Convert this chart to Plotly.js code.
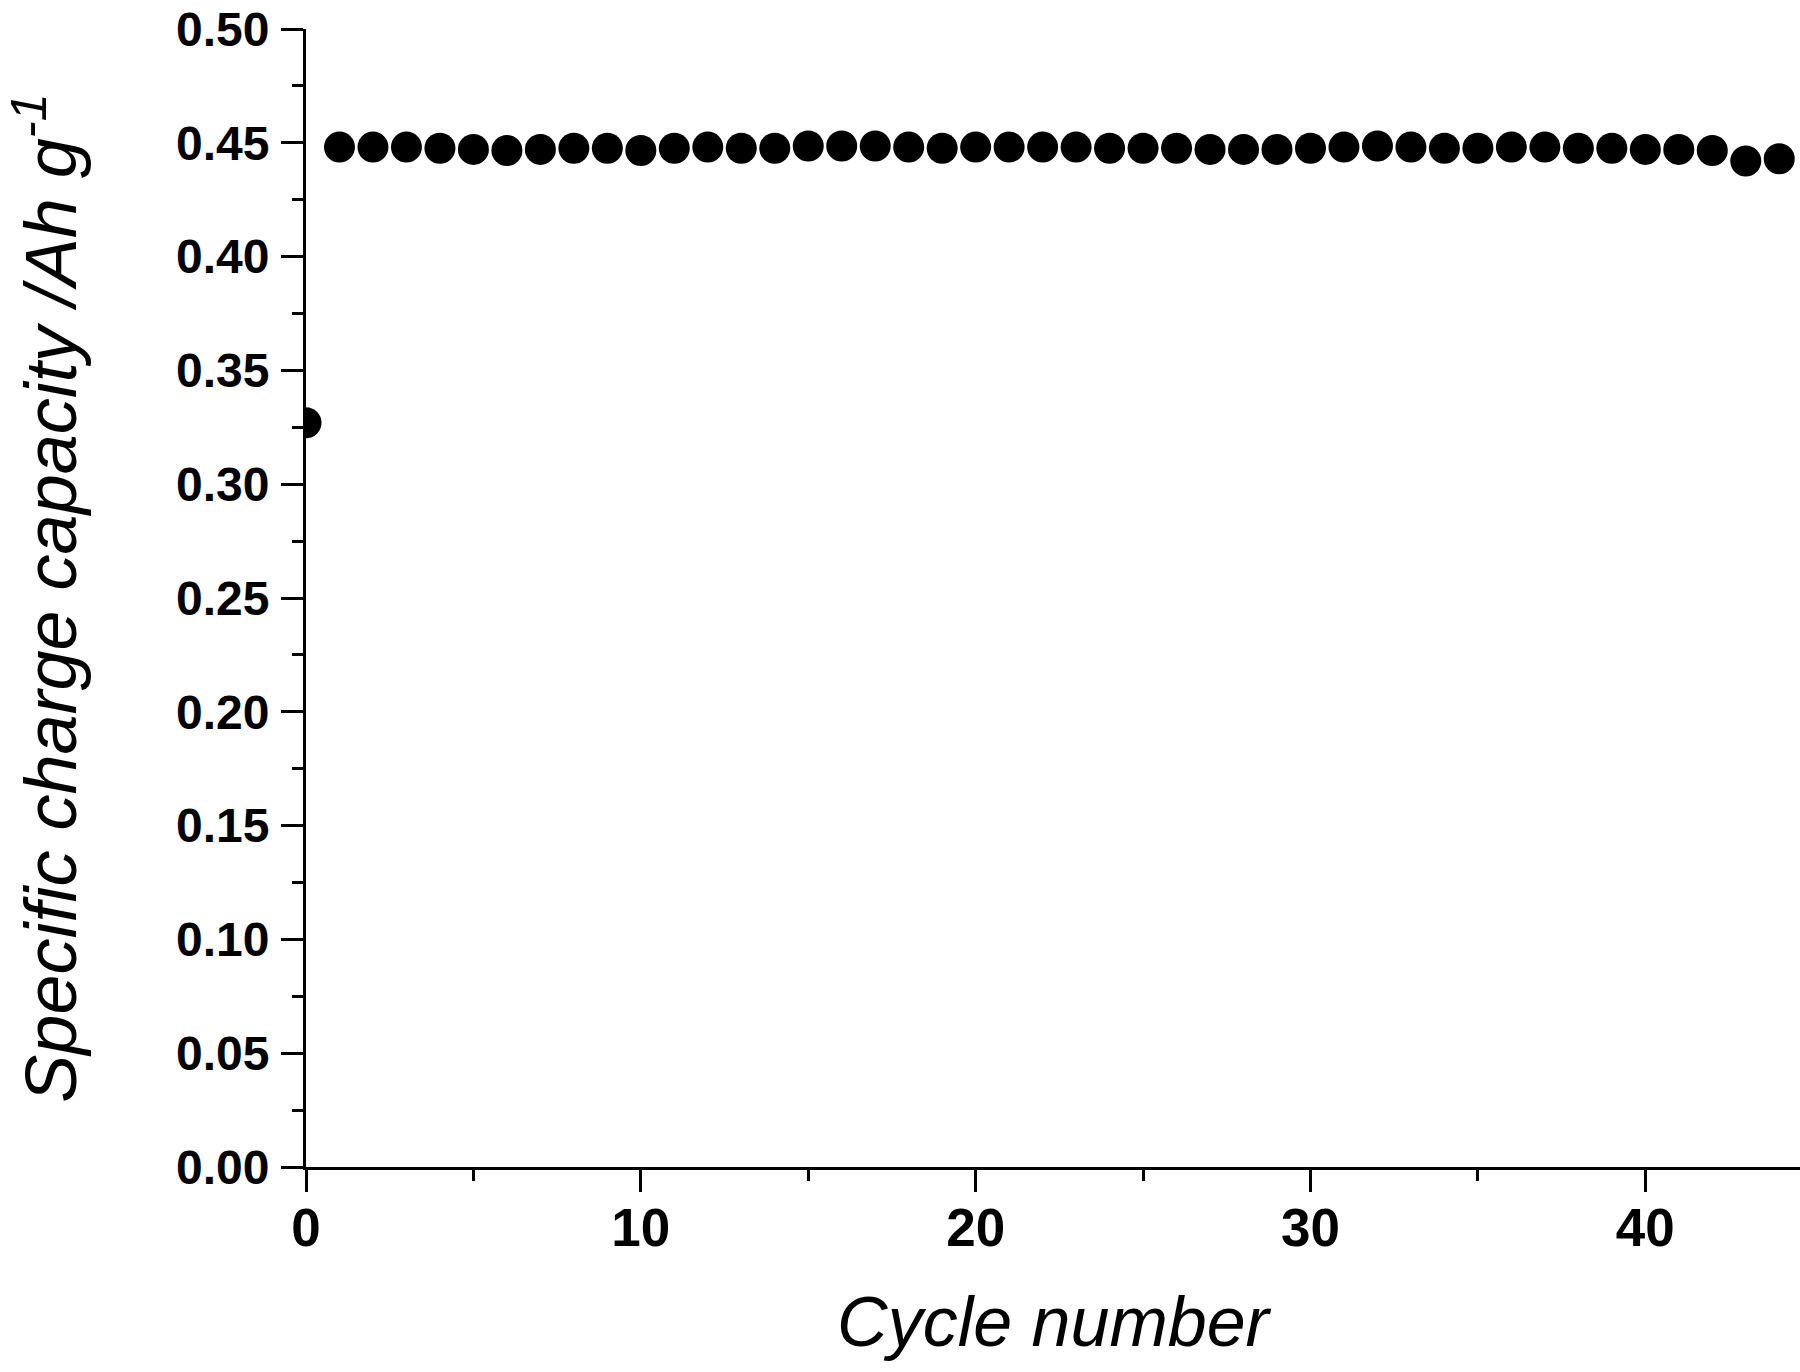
<!DOCTYPE html>
<html>
<head>
<meta charset="utf-8">
<script src="https://cdn.plot.ly/plotly-3.0.1.min.js"></script>
<style>
  html, body { margin: 0; padding: 0; background: #fff; }
  #chart { width: 1800px; height: 1372px; }
</style>
</head>
<body>
<div id="chart"></div>
<script>
// Cycling data: specific charge capacity per cycle
const cycles = [
  0, 1, 2, 3, 4, 5, 6, 7, 8, 9, 10, 11, 12, 13, 14, 15, 16, 17, 18, 19, 20, 21,
  22, 23, 24, 25, 26, 27, 28, 29, 30, 31, 32, 33, 34, 35, 36, 37, 38, 39, 40,
  41, 42, 43, 44,
];
const capacity = [
  0.327, 0.4481, 0.4481, 0.4481, 0.4476, 0.4471, 0.4466, 0.4471, 0.4476,
  0.4476, 0.4466, 0.4476, 0.4481, 0.4476, 0.4476, 0.4486, 0.4486, 0.4486,
  0.4481, 0.4476, 0.4481, 0.4481, 0.4481, 0.4481, 0.4476, 0.4476, 0.4476,
  0.4471, 0.4471, 0.4471, 0.4476, 0.4481, 0.4486, 0.4481, 0.4476, 0.4476,
  0.4481, 0.4481, 0.4476, 0.4476, 0.4471, 0.4471, 0.4466, 0.442, 0.443,
];
const xTicks = [0, 10, 20, 30, 40];
const yTicks = [0, 0.05, 0.1, 0.15, 0.2, 0.25, 0.3, 0.35, 0.4, 0.45, 0.5];

const capacityTrace = {
  x: cycles,
  y: capacity,
  type: "scatter",
  mode: "markers",
  marker: { color: "#000", size: 31 },
  cliponaxis: true,
  hoverinfo: "x+y",
};

const sans = "Liberation Sans, Arial, sans-serif";
const yTickFont = { family: sans, size: 48, color: "#000", weight: "bold" };
const xTickFont = { family: sans, size: 53, color: "#000", weight: "bold" };
const xTitleFont = { family: sans, size: 70, color: "#000", style: "italic" };
const yTitleFont = { family: sans, size: 72, color: "#000", style: "italic" };

const layout = {
  width: 1800,
  height: 1372,
  margin: { t: 29, r: 0, b: 205, l: 306 },
  paper_bgcolor: "#fff",
  plot_bgcolor: "#fff",
  showlegend: false,
  xaxis: {
    range: [0, 44.62],
    tickmode: "array",
    tickvals: xTicks,
    ticktext: xTicks.map(String),
    ticks: "outside",
    ticklen: 22,
    tickwidth: 3,
    tickcolor: "#000",
    minor: { dtick: 5, ticks: "outside", ticklen: 11, tickwidth: 3, tickcolor: "#000" },
    showline: true,
    linewidth: 3,
    linecolor: "#000",
    showgrid: false,
    zeroline: false,
    tickfont: xTickFont,
    ticklabelstandoff: -10,
    title: { text: "Cycle number", font: xTitleFont, standoff: 42 },
  },
  yaxis: {
    range: [0, 0.5],
    tickmode: "array",
    tickvals: yTicks,
    ticktext: yTicks.map((v) => v.toFixed(2)),
    ticks: "outside",
    ticklen: 22,
    tickwidth: 3,
    tickcolor: "#000",
    minor: { dtick: 0.025, ticks: "outside", ticklen: 11, tickwidth: 3, tickcolor: "#000" },
    showline: true,
    linewidth: 3,
    linecolor: "#000",
    showgrid: false,
    zeroline: false,
    tickfont: yTickFont,
    ticklabelstandoff: 2,
    title: {
      text: "Specific charge capacity /Ah g<sup>-1</sup>",
      font: yTitleFont,
      standoff: 94,
    },
  },
};

Plotly.newPlot("chart", [capacityTrace], layout, { displayModeBar: false });
</script>
</body>
</html>
